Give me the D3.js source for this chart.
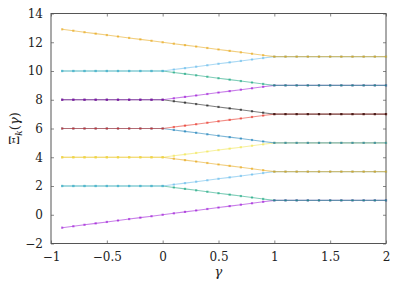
<!DOCTYPE html>
<html>
<head>
<meta charset="utf-8">
<script src="https://cdn.jsdelivr.net/npm/d3@7"></script>
<style>
  body { margin: 0; background: #fff; }
  svg text { font-family: "DejaVu Serif", "Liberation Serif", serif !important; fill: #222; }
</style>
</head>
<body>
<div class="chart"></div>
<script>
// gamma grid (x values)
const gamma = [-0.9, -0.8, -0.7, -0.6, -0.5, -0.4, -0.3, -0.2, -0.1, 0,
  0.1, 0.2, 0.3, 0.4, 0.5, 0.6, 0.7, 0.8, 0.9, 1,
  1.1, 1.2, 1.3, 1.4, 1.5, 1.6, 1.7, 1.8, 1.9, 2];

// Xi_k(gamma), k = 0..11
const xi0 = [-0.9, -0.8, -0.7, -0.6, -0.5, -0.4, -0.3, -0.2, -0.1, 0, 0.1, 0.2, 0.3, 0.4, 0.5, 0.6, 0.7, 0.8, 0.9, 1, 1, 1, 1, 1, 1, 1, 1, 1, 1, 1];
const xi1 = [2, 2, 2, 2, 2, 2, 2, 2, 2, 2, 1.9, 1.8, 1.7, 1.6, 1.5, 1.4, 1.3, 1.2, 1.1, 1, 1, 1, 1, 1, 1, 1, 1, 1, 1, 1];
const xi2 = [2, 2, 2, 2, 2, 2, 2, 2, 2, 2, 2.1, 2.2, 2.3, 2.4, 2.5, 2.6, 2.7, 2.8, 2.9, 3, 3, 3, 3, 3, 3, 3, 3, 3, 3, 3];
const xi3 = [4, 4, 4, 4, 4, 4, 4, 4, 4, 4, 3.9, 3.8, 3.7, 3.6, 3.5, 3.4, 3.3, 3.2, 3.1, 3, 3, 3, 3, 3, 3, 3, 3, 3, 3, 3];
const xi4 = [4, 4, 4, 4, 4, 4, 4, 4, 4, 4, 4.1, 4.2, 4.3, 4.4, 4.5, 4.6, 4.7, 4.8, 4.9, 5, 5, 5, 5, 5, 5, 5, 5, 5, 5, 5];
const xi5 = [6, 6, 6, 6, 6, 6, 6, 6, 6, 6, 5.9, 5.8, 5.7, 5.6, 5.5, 5.4, 5.3, 5.2, 5.1, 5, 5, 5, 5, 5, 5, 5, 5, 5, 5, 5];
const xi6 = [6, 6, 6, 6, 6, 6, 6, 6, 6, 6, 6.1, 6.2, 6.3, 6.4, 6.5, 6.6, 6.7, 6.8, 6.9, 7, 7, 7, 7, 7, 7, 7, 7, 7, 7, 7];
const xi7 = [8, 8, 8, 8, 8, 8, 8, 8, 8, 8, 7.9, 7.8, 7.7, 7.6, 7.5, 7.4, 7.3, 7.2, 7.1, 7, 7, 7, 7, 7, 7, 7, 7, 7, 7, 7];
const xi8 = [8, 8, 8, 8, 8, 8, 8, 8, 8, 8, 8.1, 8.2, 8.3, 8.4, 8.5, 8.6, 8.7, 8.8, 8.9, 9, 9, 9, 9, 9, 9, 9, 9, 9, 9, 9];
const xi9 = [10, 10, 10, 10, 10, 10, 10, 10, 10, 10, 9.9, 9.8, 9.7, 9.6, 9.5, 9.4, 9.3, 9.2, 9.1, 9, 9, 9, 9, 9, 9, 9, 9, 9, 9, 9];
const xi10 = [10, 10, 10, 10, 10, 10, 10, 10, 10, 10, 10.1, 10.2, 10.3, 10.4, 10.5, 10.6, 10.7, 10.8, 10.9, 11, 11, 11, 11, 11, 11, 11, 11, 11, 11, 11];
const xi11 = [12.9, 12.8, 12.7, 12.6, 12.5, 12.4, 12.3, 12.2, 12.1, 12, 11.9, 11.8, 11.7, 11.6, 11.5, 11.4, 11.3, 11.2, 11.1, 11, 11, 11, 11, 11, 11, 11, 11, 11, 11, 11];
const series = [xi0, xi1, xi2, xi3, xi4, xi5, xi6, xi7, xi8, xi9, xi10, xi11];

const xTicks = [-1, -0.5, 0, 0.5, 1, 1.5, 2];
const yTicks = [-2, 0, 2, 4, 6, 8, 10, 12, 14];

// gnuplot-like default line colours
const palette = ["#9400d3", "#009e73", "#56b4e9", "#e69f00", "#f0e442", "#0072b2", "#e51e10", "#000000"];

const width = 409, height = 284;
const margin = { top: 13.5, right: 23, bottom: 40.5, left: 51 };
const serif = "'DejaVu Serif', 'Liberation Serif', serif";

const svg = d3.select(".chart").append("svg")
  .attr("width", width)
  .attr("height", height);

const x = d3.scaleLinear().domain([-1, 2]).range([margin.left, width - margin.right]);
const y = d3.scaleLinear().domain([-2, 14]).range([height - margin.bottom, margin.top]);

const fmt = (d) => String(d).replace("-", "\u2212");

// axes with inward ticks, mirrored on top/right
svg.append("g")
  .attr("transform", `translate(0,${height - margin.bottom})`)
  .call(d3.axisBottom(x).tickValues(xTicks).tickSize(-3).tickPadding(9).tickFormat(fmt))
  .call((g) => g.select(".domain").remove());
svg.append("g")
  .attr("transform", `translate(0,${margin.top})`)
  .call(d3.axisTop(x).tickValues(xTicks).tickSize(-3).tickFormat(""))
  .call((g) => g.select(".domain").remove());
svg.append("g")
  .attr("transform", `translate(${margin.left},0)`)
  .call(d3.axisLeft(y).tickValues(yTicks).tickSize(-3).tickPadding(8).tickFormat(fmt))
  .call((g) => g.select(".domain").remove());
svg.append("g")
  .attr("transform", `translate(${width - margin.right},0)`)
  .call(d3.axisRight(y).tickValues(yTicks).tickSize(-3).tickFormat(""))
  .call((g) => g.select(".domain").remove());

svg.selectAll("g").attr("font-family", serif);
svg.selectAll(".tick line").attr("stroke", "#888");
svg.selectAll(".tick text")
  .attr("font-size", 12)
  .attr("font-family", serif)
  .attr("fill", "#222");

// frame
svg.append("rect")
  .attr("x", margin.left)
  .attr("y", margin.top)
  .attr("width", width - margin.left - margin.right)
  .attr("height", height - margin.top - margin.bottom)
  .attr("fill", "none")
  .attr("stroke", "#555")
  .attr("stroke-width", 1);

const line = d3.line()
  .x((d, i) => x(gamma[i]))
  .y((d) => y(d));

const plot = svg.append("g");
series.forEach((s, k) => {
  const c = palette[k % palette.length];
  const g = plot.append("g");
  g.append("path")
    .datum(s)
    .attr("fill", "none")
    .attr("stroke", c)
    .attr("stroke-opacity", 0.5)
    .attr("stroke-width", 1.1)
    .attr("d", line);
  g.selectAll("rect")
    .data(s)
    .join("rect")
    .attr("x", (d, i) => x(gamma[i]) - 1.1)
    .attr("y", (d) => y(d) - 1.1)
    .attr("width", 2.2)
    .attr("height", 2.2)
    .attr("fill", c)
    .attr("fill-opacity", 0.55);
});

// axis labels
svg.append("text")
  .attr("x", (margin.left + width - margin.right) / 2)
  .attr("y", 276)
  .attr("text-anchor", "middle")
  .attr("font-family", serif)
  .attr("font-size", 13)
  .attr("font-style", "italic")
  .text("\u03b3");

const yl = svg.append("text")
  .attr("transform", `translate(19,${(margin.top + height - margin.bottom) / 2}) rotate(-90)`)
  .attr("text-anchor", "middle")
  .attr("font-family", serif)
  .attr("font-size", 13);
yl.append("tspan").text("\u039e");
yl.append("tspan").attr("font-size", 9).attr("dy", 3).attr("font-style", "italic").text("k");
yl.append("tspan").attr("dy", -3).text("(");
yl.append("tspan").attr("font-style", "italic").text("\u03b3");
yl.append("tspan").text(")");
</script>
</body>
</html>
